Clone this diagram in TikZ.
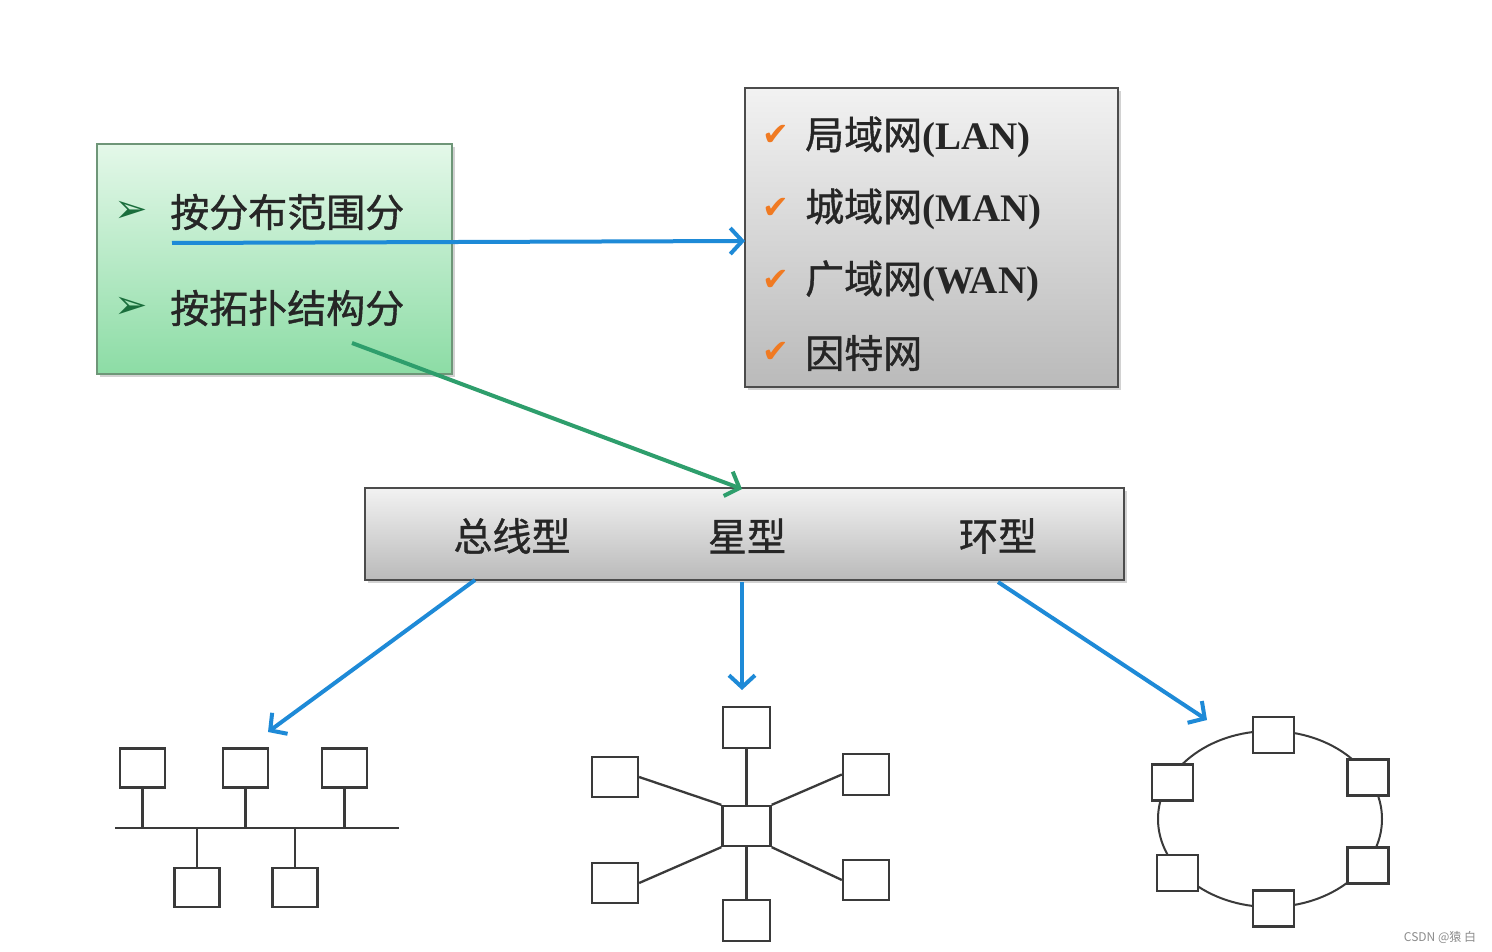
\documentclass[tikz,border=0pt]{standalone}
\usepackage{fontspec}
\setmainfont{Liberation Serif}
\newfontfamily\cjk[FakeBold=1]{Noto Sans CJK SC}
\newfontfamily\cjkplain{Noto Sans CJK SC}
\newfontfamily\dejavu{DejaVu Sans}
\usetikzlibrary{arrows.meta,shadows,shapes.geometric}
\definecolor{arrowblue}{RGB}{30,138,215}
\definecolor{arrowgreen}{RGB}{46,158,108}
\definecolor{greentop}{RGB}{228,248,233}
\definecolor{greenbot}{RGB}{140,220,165}
\definecolor{greenedge}{RGB}{110,150,120}
\definecolor{graytop}{RGB}{242,242,242}
\definecolor{graybot}{RGB}{186,186,186}
\definecolor{lineg}{RGB}{58,58,58}
\definecolor{checkorange}{RGB}{240,122,34}
\definecolor{bulletgreen}{RGB}{26,110,60}
\begin{document}
\begin{tikzpicture}[x=1pt,y=-1pt,
  cjktext/.style={font=\cjk\fontsize{39}{44}\selectfont,text=black!85,inner sep=0pt},
  checkmk/.style={font=\dejavu\fontsize{32}{36}\selectfont,text=checkorange,inner sep=0pt},
  bulletmk/.style={font=\dejavu\fontsize{40}{44}\selectfont,text=bulletgreen,inner sep=0pt},
  panel/.style={draw=#1,line width=1.3pt,drop shadow={opacity=0.35,shadow xshift=3pt,shadow yshift=-3pt}},
  barrow/.style={draw=arrowblue,line width=4pt,-{Straight Barb[length=12pt,width=26pt]}},
  garrow/.style={draw=arrowgreen,line width=4pt,-{Straight Barb[length=12pt,width=26pt]}},
  tline/.style={draw=lineg,line width=2.3pt},
  busbox/.style={tline,fill=white,inner sep=0pt,minimum width=45pt,minimum height=39pt},
  starbox/.style={tline,fill=white,inner sep=0pt,minimum width=46pt,minimum height=40pt},
  ringbox/.style={tline,fill=white,inner sep=0pt,minimum width=41pt,minimum height=36pt}]
\useasboundingbox (0,0) rectangle (1492,952);
\fill[white] (0,0) rectangle (1492,952);

% panels
\node[panel=greenedge,top color=greentop,bottom color=greenbot,minimum width=355pt,minimum height=230pt,inner sep=0pt] (green) at (274.5,259) {};
\node[panel=black!70,top color=graytop,bottom color=graybot,minimum width=373pt,minimum height=299pt,inner sep=0pt] (gray) at (931.5,237.5) {};
\node[panel=black!70,top color=graytop,bottom color=graybot,minimum width=759pt,minimum height=92pt,inner sep=0pt] (topo) at (744.5,534) {};

% green panel text
\node[bulletmk] (bu1) at (131,212) {➢};
\node[bulletmk] (bu2) at (131,308) {➢};
\node[cjktext,anchor=west] (t1) at (170,212) {按分布范围分};
\node[cjktext,anchor=west] (t2) at (170,308) {按拓扑结构分};

% gray panel list
\node[checkmk] (c1) at (776,135) {✔};
\node[checkmk] (c2) at (776,208) {✔};
\node[checkmk] (c3) at (776,280) {✔};
\node[checkmk] (c4) at (776,352) {✔};
\node[cjktext,anchor=west] (l1) at (805,137) {局域网\textbf{\fontspec{Liberation Serif}(LAN)}};
\node[cjktext,anchor=west] (l2) at (805,209) {城域网\textbf{\fontspec{Liberation Serif}(MAN)}};
\node[cjktext,anchor=west] (l3) at (805,281) {广域网\textbf{\fontspec{Liberation Serif}(WAN)}};
\node[cjktext,anchor=west] (l4) at (805,353) {因特网};

% topology panel text
\node[cjktext] (bus) at (512,536) {总线型};
\node[cjktext] (star) at (747,536) {星型};
\node[cjktext] (ring) at (998,536) {环型};

% main arrows
\coordinate (bstart) at (172,243);
\coordinate (bend) at (745,241);
\draw[barrow] (bstart) -- (bend);
\coordinate (gstart) at (352,343);
\coordinate (gend) at (742,489);
\draw[garrow] (gstart) -- (gend);
\coordinate (a1s) at (475,580);
\coordinate (a1e) at (268,732);
\coordinate (a2s) at (742,582);
\coordinate (a2e) at (742,690);
\coordinate (a3s) at (998,582);
\coordinate (a3e) at (1207,720);
\draw[barrow] (a1s) -- (a1e);
\draw[barrow] (a2s) -- (a2e);
\draw[barrow] (a3s) -- (a3e);

% bus topology
\coordinate (busL) at (115,828);
\coordinate (busR) at (399,828);
\draw[tline] (busL) -- (busR);
\node[busbox] (bt1) at (142.5,768) {};
\node[busbox] (bt2) at (245.5,768) {};
\node[busbox] (bt3) at (344.5,768) {};
\node[busbox] (bb1) at (197,887.5) {};
\node[busbox] (bb2) at (295,887.5) {};
\foreach \n in {bt1,bt2,bt3} \draw[tline] (\n.south) -- (\n.south |- busL);
\foreach \n in {bb1,bb2} \draw[tline] (\n.north) -- (\n.north |- busL);

% star topology
\node[starbox,minimum width=48pt] (sc) at (746.5,826) {};
\node[starbox,minimum width=47pt,minimum height=41pt] (st) at (746.5,727.5) {};
\node[starbox,minimum width=47pt,minimum height=41pt] (sb) at (746.5,920.5) {};
\node[starbox] (slu) at (615,777) {};
\node[starbox] (sll) at (615,883) {};
\node[starbox,minimum height=41pt] (sru) at (866,774.5) {};
\node[starbox] (srl) at (866,880) {};
\draw[tline] (st.south) -- (sc.north);
\draw[tline] (sc.south) -- (sb.north);
\draw[tline] (slu.east) -- (sc.north west);
\draw[tline] (sll.east) -- (sc.south west);
\draw[tline] (sru.west) -- (sc.north east);
\draw[tline] (srl.west) -- (sc.south east);

% ring topology
\node[ellipse,draw=lineg,line width=2pt,minimum width=224pt,minimum height=176pt,inner sep=0pt] (re) at (1270,819) {};
\node[ringbox] (rt) at (1273.5,735) {};
\node[ringbox] (rlu) at (1172.5,782.5) {};
\node[ringbox] (rru) at (1368,777.5) {};
\node[ringbox] (rll) at (1177.5,873) {};
\node[ringbox] (rrl) at (1368,865.5) {};
\node[ringbox] (rb) at (1273.5,908.5) {};

% watermark
\node[font=\cjkplain\fontsize{12}{14}\selectfont,text=black!45,inner sep=0pt] (wm) at (1440,937) {CSDN @猿 白};
\end{tikzpicture}
\end{document}
